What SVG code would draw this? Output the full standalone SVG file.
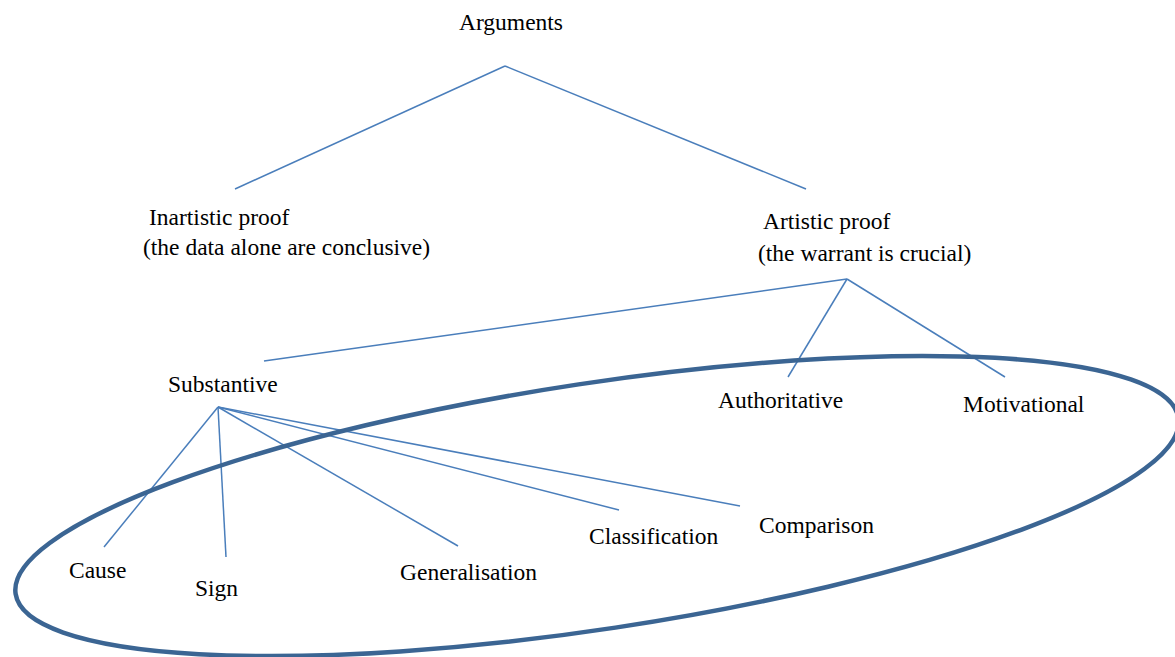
<svg xmlns="http://www.w3.org/2000/svg" width="1175" height="657" viewBox="0 0 1175 657">
<style>
text{font-family:'Liberation Serif','Times New Roman','DejaVu Serif',serif;font-size:23.5px;fill:#000}
.c line{stroke:#4a7ebb;stroke-width:1.5;fill:none}
.ring{fill:none;stroke:#3b6593;stroke-width:4.5}
</style>
<rect width="1175" height="657" fill="#fff"/>
<g class="c" id="connectors">
<line x1="505" y1="66" x2="235" y2="189"/>
<line x1="505" y1="66" x2="806" y2="189"/>
<line x1="847" y1="279" x2="264" y2="361"/>
<line x1="847" y1="279" x2="788" y2="377"/>
<line x1="847" y1="279" x2="1005" y2="377"/>
<line x1="218" y1="407" x2="104" y2="547"/>
<line x1="218" y1="407" x2="226" y2="557"/>
<line x1="218" y1="407" x2="458" y2="546"/>
<line x1="218" y1="407" x2="619" y2="510"/>
<line x1="218" y1="407" x2="740" y2="506"/>
</g>
<g id="ellipse"><ellipse class="ring" cx="597" cy="506" rx="588" ry="123" transform="rotate(-8.6 597 506)"/></g>
<g id="arguments"><text x="459" y="30">Arguments</text></g>
<g id="inartistic"><text x="149" y="225">Inartistic proof</text><text x="143" y="255">(the data alone are conclusive)</text></g>
<g id="artistic"><text x="763" y="229">Artistic proof</text><text x="758" y="261">(the warrant is crucial)</text></g>
<g id="substantive"><text x="168" y="392">Substantive</text></g>
<g id="authoritative"><text x="718" y="408">Authoritative</text></g>
<g id="motivational"><text x="963" y="412">Motivational</text></g>
<g id="cause"><text x="69" y="578">Cause</text></g>
<g id="sign"><text x="195" y="596">Sign</text></g>
<g id="generalisation"><text x="400" y="580">Generalisation</text></g>
<g id="classification"><text x="589" y="544">Classification</text></g>
<g id="comparison"><text x="759" y="533">Comparison</text></g>
</svg>
